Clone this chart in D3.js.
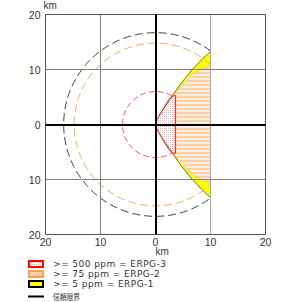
<!DOCTYPE html>
<html>
<head>
<meta charset="utf-8">
<script src="https://cdn.jsdelivr.net/npm/d3@7"></script>
<style>
  body { margin: 0; background: #fff; }
  svg { display: block; font-family: "Liberation Sans", Arial, sans-serif; }
  .tick-label { font-size: 10.5px; fill: #333; }
  .legend-label { font-family: "DejaVu Sans", sans-serif; font-size: 9px; letter-spacing: 0.45px; fill: #333; }
</style>
</head>
<body>
<div id="chart"></div>
<script>
// axis ticks (km), labels shown without sign
const tickValues = [-20, -10, 0, 10, 20];
const tickLabels = ['20', '10', '0', '10', '20'];

// upper edge of each threat zone (x km downwind, y km crosswind), mirrored below
const erpg1Edge = [[0, 0], [0.3, 0.9], [1.1, 2.4], [2.4, 4.5], [3.1, 5.3], [4.5, 7.3], [6.7, 10], [8.4, 11.8], [10, 13.3]];
const erpg2Edge = [[0, 0], [0.3, 0.9], [1.15, 2.35], [2.5, 4.4], [3.2, 5.2], [4.8, 7.1], [6.7, 9.1], [8.5, 10.1], [10, 10.7]];
const erpg3Edge = [[0, 0], [0.3, 0.9], [1.15, 2.35], [2.5, 4.4], [3.1, 5.15], [3.65, 5.3]];

// confidence / zone circles: radius (km) and the angle (deg) where each meets the plume
const circleRadii = [16.7, 14.8, 6.0];
const circleCutAngles = [53, 47.5, 60];
const circleColors = ['#444444', '#f5b25e', '#ff5a5a'];

const legendLabels = ['>= 500 ppm = ERPG-3', '>= 75 ppm = ERPG-2', '>= 5 ppm = ERPG-1', '信頼限界'];

class ThreatZoneChart {
    constructor(containerId) {
        this.containerId = containerId;
        this.width = 300;
        this.height = 302;
        this.svg = null;
        this.xScale = d3.scaleLinear().domain([-20, 20]).range([45.5, 265.5]);
        this.yScale = d3.scaleLinear().domain([-20, 20]).range([234.5, 14.5]);
    }

    init() {
        this.setupSVG();
        this.drawZones();
        this.drawCircles();
        this.drawGrid();
        this.drawLabels();
        this.drawLegend();
    }

    setupSVG() {
        this.svg = d3.select(`#${this.containerId}`)
            .append('svg')
            .attr('width', this.width)
            .attr('height', this.height);

        const defs = this.svg.append('defs');

        const stripes = defs.append('pattern')
            .attr('id', 'stripes')
            .attr('patternUnits', 'userSpaceOnUse')
            .attr('width', 4).attr('height', 4);
        stripes.append('rect').attr('width', 4).attr('height', 4).attr('fill', '#fdeedf');
        stripes.append('rect').attr('width', 4).attr('height', 2).attr('fill', '#fbd2a8');

        const dots = defs.append('pattern')
            .attr('id', 'dots')
            .attr('patternUnits', 'userSpaceOnUse')
            .attr('width', 2).attr('height', 2);
        dots.append('rect').attr('width', 2).attr('height', 2).attr('fill', '#ffffff');
        dots.append('rect').attr('width', 1).attr('height', 1).attr('fill', '#f7a8b0');
    }

    zonePolygon(edge) {
        // top edge out, straight down at the far end, bottom edge back
        const lower = edge.slice().reverse().map(d => [d[0], -d[1]]);
        return edge.concat(lower).map(d => [this.xScale(d[0]), this.yScale(d[1])]);
    }

    drawZones() {
        const line = d3.line().curve(d3.curveLinear);

        this.svg.append('path')
            .attr('d', line(this.zonePolygon(erpg1Edge)) + 'Z')
            .attr('fill', '#ffff00')
            .attr('stroke', '#707050')
            .attr('stroke-width', 1);

        this.svg.append('path')
            .attr('d', line(this.zonePolygon(erpg2Edge)) + 'Z')
            .attr('fill', 'url(#stripes)')
            .attr('stroke', '#f8c080')
            .attr('stroke-width', 0.8);

        this.svg.append('path')
            .attr('d', line(this.zonePolygon(erpg3Edge)) + 'Z')
            .attr('fill', 'url(#dots)')
            .attr('stroke', '#ff2020')
            .attr('stroke-width', 1);
    }

    drawCircles() {
        const cx = this.xScale(0);
        const cy = this.yScale(0);
        const arcPath = (r, cut) => {
            const p = d3.path();
            const a = cut * Math.PI / 180;
            const rp = this.xScale(r) - cx;
            p.moveTo(cx + rp * Math.cos(-a), cy + rp * Math.sin(-a));
            p.arc(cx, cy, rp, -a, a, true);
            return p.toString();
        };

        this.svg.selectAll('.zone-circle')
            .data(circleRadii)
            .enter()
            .append('path')
            .attr('class', 'zone-circle')
            .attr('d', (d, i) => arcPath(d, circleCutAngles[i]))
            .attr('fill', 'none')
            .attr('stroke', (d, i) => circleColors[i])
            .attr('stroke-width', 1)
            .attr('stroke-dasharray', (d, i) => i === 2 ? '6,3' : '8,4');
    }

    drawGrid() {
        const g = this.svg.append('g').attr('class', 'grid');

        g.selectAll('.vline')
            .data(tickValues.filter(d => d !== 0))
            .enter()
            .append('line')
            .attr('x1', d => this.xScale(d)).attr('x2', d => this.xScale(d))
            .attr('y1', this.yScale(20)).attr('y2', this.yScale(-20))
            .attr('stroke', d => d === 10 ? '#a8a8a8' : (Math.abs(d) === 20 ? '#555' : '#808080'))
            .attr('stroke-width', 1);

        g.selectAll('.hline')
            .data(tickValues.filter(d => d !== 0))
            .enter()
            .append('line')
            .attr('x1', this.xScale(-20)).attr('x2', this.xScale(20))
            .attr('y1', d => this.yScale(d)).attr('y2', d => this.yScale(d))
            .attr('stroke', d => Math.abs(d) === 20 ? '#555' : '#808080')
            .attr('stroke-width', 1);

        // zero axes
        g.append('line')
            .attr('x1', this.xScale(0) + 0.5).attr('x2', this.xScale(0) + 0.5)
            .attr('y1', this.yScale(20)).attr('y2', this.yScale(-20))
            .attr('stroke', '#000').attr('stroke-width', 2);
        g.append('line')
            .attr('x1', this.xScale(-20)).attr('x2', this.xScale(20))
            .attr('y1', this.yScale(0) + 0.5).attr('y2', this.yScale(0) + 0.5)
            .attr('stroke', '#000').attr('stroke-width', 2);
    }

    drawLabels() {
        this.svg.selectAll('.ylab')
            .data(tickValues)
            .enter()
            .append('text')
            .attr('class', 'tick-label')
            .attr('x', this.xScale(-20) - 5)
            .attr('y', d => this.yScale(d) + 4)
            .attr('text-anchor', 'end')
            .text((d, i) => tickLabels[i]);

        this.svg.selectAll('.xlab')
            .data(tickValues)
            .enter()
            .append('text')
            .attr('class', 'tick-label')
            .attr('x', d => this.xScale(d))
            .attr('y', this.yScale(-20) + 11)
            .attr('text-anchor', 'middle')
            .text((d, i) => tickLabels[i]);

        this.svg.append('text')
            .attr('class', 'tick-label')
            .attr('x', this.xScale(-20) - 2)
            .attr('y', 9)
            .style('font-size', '10px')
            .text('km');

        this.svg.append('text')
            .attr('class', 'tick-label')
            .attr('x', this.xScale(0))
            .attr('y', this.yScale(-20) + 20)
            .style('font-size', '10px')
            .text('km');
    }

    drawLegend() {
        const swatches = [
            { fill: 'url(#dots)', stroke: '#ff0000' },
            { fill: '#fcd3a8', stroke: '#f7a050' },
            { fill: '#ffff00', stroke: '#000000' }
        ];
        const legend = this.svg.append('g').attr('class', 'legend');
        const top = 260;
        const step = 10;

        legend.selectAll('rect')
            .data(swatches)
            .enter()
            .append('rect')
            .attr('x', 29)
            .attr('y', (d, i) => top + 1 + i * step)
            .attr('width', 14)
            .attr('height', 6)
            .attr('fill', d => d.fill)
            .attr('stroke', d => d.stroke)
            .attr('stroke-width', 2);

        legend.append('line')
            .attr('x1', 28).attr('x2', 44)
            .attr('y1', top + 3 * step + 6.5).attr('y2', top + 3 * step + 6.5)
            .attr('stroke', '#000').attr('stroke-width', 2);

        legend.selectAll('text')
            .data(legendLabels)
            .enter()
            .append('text')
            .attr('class', 'legend-label')
            .attr('x', 53)
            .attr('y', (d, i) => top + 7 + i * step + (i === 3 ? 2.5 : 0))
            .style('font-family', (d, i) => i === 3 ? '"Noto Sans CJK JP", sans-serif' : null)
            .style('font-size', (d, i) => i === 3 ? '8px' : null)
            .style('letter-spacing', (d, i) => i === 3 ? '0px' : null)
            .attr('textLength', (d, i) => i === 3 ? 27 : null)
            .attr('lengthAdjust', 'spacingAndGlyphs')
            .text(d => d);
    }
}

const chart = new ThreatZoneChart('chart');
chart.init();
</script>
</body>
</html>
